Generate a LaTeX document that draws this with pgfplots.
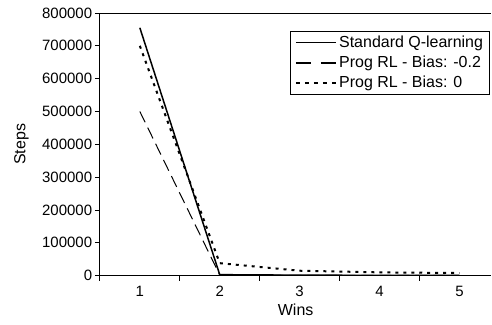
\documentclass[border=0pt]{standalone}
\usepackage{fontspec}
\setmainfont{Liberation Sans}
\usepackage{pgfplots}
\pgfplotsset{compat=1.18}
\begin{document}
\begin{tikzpicture}
\begin{axis}[
  name=ax,
  scale only axis, width=392bp, height=263bp,
  xmin=0.5, xmax=5.4, ymin=0, ymax=800000,
  axis x line*=bottom, axis y line*=left,
  axis line style={line width=1.2bp, -},
  tick align=outside,
  xtick={1,2,3,4,5},
  minor xtick={0.5,1.5,2.5,3.5,4.5,5.5},
  xtick style={/pgfplots/major tick length=0pt},
  minor tick length=5bp,
  ytick={0,100000,200000,300000,400000,500000,600000,700000,800000},
  ytick style={/pgfplots/major tick length=5bp},
  tick style={black, line width=0.8bp},
  scaled y ticks=false,
  /pgf/number format/assume math mode=true,
  yticklabel style={/pgf/number format/.cd, fixed, 1000 sep={}},
  ticklabel style={font=\fontsize{15bp}{18bp}\selectfont},
  xticklabel style={yshift=-3bp},
  label style={font=\fontsize{16bp}{19bp}\selectfont},
  xlabel={Wins}, ylabel={Steps},
  ylabel style={xshift=0bp, yshift=-2bp},
  extra y ticks={800000}, extra y tick labels={},
  extra y tick style={grid=major, major grid style={black, line width=0.9bp}, ytick style={/pgfplots/major tick length=0pt}},
  legend image code/.code={\draw[#1] (0bp,0bp) -- (40bp,0bp);},
  legend style={at={(0.995,0.932)}, anchor=north east, draw=black, line width=0.8bp,
    font=\fontsize{16bp}{19bp}\selectfont, row sep=3bp, inner xsep=4bp, inner ysep=3bp,
    cells={anchor=west}},
]
\addlegendimage{black, line width=1bp}
\addlegendentry{Standard Q-learning}
\addlegendimage{black, line width=2.5bp, dash pattern=on 15bp off 10bp}
\addlegendentry{Prog RL - Bias: -0.2}
\addlegendimage{black, line width=2.5bp, dash pattern=on 4bp off 5bp}
\addlegendentry{Prog RL - Bias: 0}

\addplot[black, line width=1.5bp, forget plot] coordinates {(1,755000) (2,3000) (3,1500) (4,1000) (5,500)};
\addplot[black, line width=1bp, dash pattern=on 12bp off 6bp, forget plot] coordinates {(1,500000) (2,2000) (3,1000) (4,800) (5,500)};
\addplot[black, line width=2bp, dash pattern=on 3bp off 5bp, forget plot] coordinates {(1,700000) (2,38000) (3,15000) (4,10000) (5,8000)};
\end{axis}
\path[use as bounding box] ([shift={(-100bp,-49bp)}]ax.south west) rectangle ([shift={(0bp,13bp)}]ax.north east);
\end{tikzpicture}
\end{document}
